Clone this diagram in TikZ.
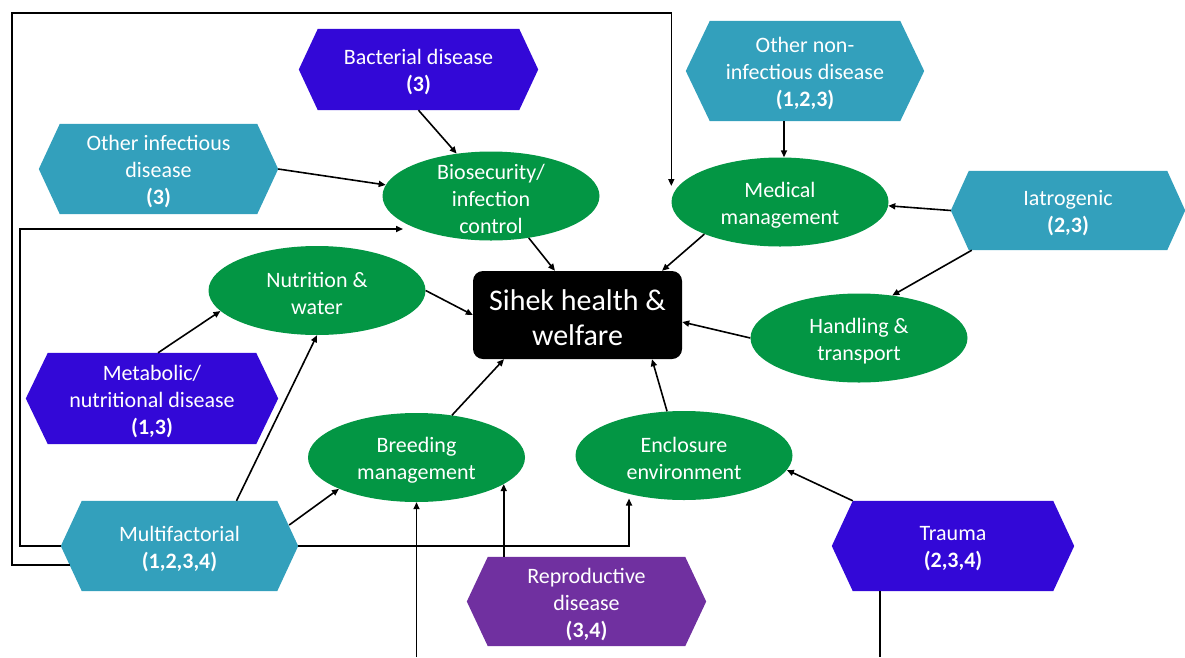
\documentclass[tikz,border=0pt]{standalone}
\usepackage{fontspec}
\setmainfont{Carlito}
\usetikzlibrary{shapes.geometric,arrows.meta,backgrounds}
\definecolor{hexteal}{RGB}{51,160,188}
\definecolor{hexblue}{RGB}{51,8,215}
\definecolor{hexpurple}{RGB}{112,48,160}
\definecolor{ovalgreen}{RGB}{3,150,68}
\begin{document}
\begin{tikzpicture}[x=1pt,y=-1pt,
  hexnode/.style={rectangle, inner sep=0pt},
  oval/.style={ellipse, fill=ovalgreen, inner sep=0pt,
    minimum width=217pt, minimum height=89pt},
  bodytext/.style={text=white, align=center, inner sep=0pt, yshift=-3pt,
    font=\fontsize{22}{27}\selectfont},
  hub/.style={rectangle, rounded corners=10pt, fill=black, text=white,
    align=center, inner sep=0pt, minimum width=209pt, minimum height=88pt,
    font=\fontsize{30}{35}\selectfont},
  link/.style={line width=1.6pt, draw=black},
  arr/.style={link, -{Triangle[length=7pt,width=6pt]}}
]
\useasboundingbox (0,0) rectangle (1185,657);

% hazard hexagons (fills are added on the background layer below)
\node[hexnode, minimum width=239pt, minimum height=81pt] (bact) at (418.5,69.5) {};
\node[hexnode, minimum width=239pt, minimum height=90pt] (oinf) at (158.5,169) {};
\node[hexnode, minimum width=238pt, minimum height=100pt] (onon) at (805,71) {};
\node[hexnode, minimum width=234pt, minimum height=79pt] (iatro) at (1068,210.5) {};
\node[hexnode, minimum width=252pt, minimum height=91pt] (meta) at (152,398.5) {};
\node[hexnode, minimum width=237pt, minimum height=90pt] (multi) at (179.5,546) {};
\node[hexnode, minimum width=239pt, minimum height=89pt] (repro) at (586.5,601.5) {};
\node[hexnode, minimum width=242pt, minimum height=90pt] (trauma) at (953,546) {};

\begin{scope}[on background layer]
  \foreach \n/\c/\i in {bact/hexblue/19pt, oinf/hexteal/21pt, onon/hexteal/24pt,
      iatro/hexteal/18pt, meta/hexblue/22pt, multi/hexteal/21pt,
      repro/hexpurple/21pt, trauma/hexblue/21pt}
    \fill[\c] ([xshift=\i]\n.north west) -- ([xshift=-\i]\n.north east)
      -- (\n.east) -- ([xshift=-\i]\n.south east)
      -- ([xshift=\i]\n.south west) -- (\n.west) -- cycle;
\end{scope}

\node[bodytext] (bact-t) at (bact.center) {Bacterial disease\\\textbf{(3)}};
\node[bodytext] (oinf-t) at (oinf.center) {Other infectious\\disease\\\textbf{(3)}};
\node[bodytext] (onon-t) at (onon.center) {Other non-\\infectious disease\\\textbf{(1,2,3)}};
\node[bodytext] (iatro-t) at (iatro.center) {Iatrogenic\\\textbf{(2,3)}};
\node[bodytext] (meta-t) at (meta.center) {Metabolic/\\nutritional disease\\\textbf{(1,3)}};
\node[bodytext] (multi-t) at (multi.center) {Multifactorial\\\textbf{(1,2,3,4)}};
\node[bodytext] (repro-t) at (repro.center) {Reproductive\\disease\\\textbf{(3,4)}};
\node[bodytext] (trauma-t) at (trauma.center) {Trauma\\\textbf{(2,3,4)}};

% management areas
\node[oval] (bio) at (491,196) {};
\node[bodytext] (bio-t) at (bio.center) {Biosecurity/\\infection\\control};
\node[oval] (med) at (780,202) {};
\node[bodytext] (med-t) at (med.center) {Medical\\management};
\node[oval] (nut) at (317,290.5) {};
\node[bodytext] (nut-t) at (nut.center) {Nutrition \&\\water};
\node[oval] (hand) at (859,338) {};
\node[bodytext] (hand-t) at (hand.center) {Handling \&\\transport};
\node[oval] (breed) at (416.5,457.5) {};
\node[bodytext] (breed-t) at (breed.center) {Breeding\\management};
\node[oval] (encl) at (684,455.5) {};
\node[bodytext] (encl-t) at (encl.center) {Enclosure\\environment};

% central outcome
\node[hub] (hub) at (577.5,315) {};
\node[bodytext, font=\fontsize{30}{35}\selectfont] (hub-t) at (hub.center)
  {Sihek health \&\\welfare};

% free ends at the lower edge
\coordinate (bb) at (416.5,657);
\coordinate (tb) at (880,657);

% hazards to management areas
\draw[arr] (bact.south) -- (bio.129);
\draw[arr] (oinf.east) -- (bio.174);
\draw[arr] ([xshift=-21pt]onon.south) -- ([xshift=-21pt]onon.south |- med.north);
\draw[arr] (iatro.west) -- (med.-2);
\draw[arr] ([xshift=21pt]iatro.south west) -- (hand.52);
\draw[arr] ([xshift=6pt]meta.north) -- (nut.192);
\draw[arr] ([xshift=57pt]multi.north) -- (nut.south);
\draw[arr] ([shift={(-9pt,21pt)}]multi.east) -- (breed.202);
\draw[arr] (multi.east) -| ([shift={(-55pt,-43pt)}]encl.center);
\draw[arr] (multi.west) -| (20,229) -- ([shift={(-88pt,-33pt)}]bio.center);
\draw[arr] ([shift={(9pt,-19pt)}]multi.west) -| (12,13) -| ([yshift=16pt]med.west);
\draw[arr] (bb) -- (breed.south);
\draw[arr] (breed.-17 |- repro.north) -- (breed.-17);
\draw[arr] ([xshift=21pt]trauma.north west) -- (encl.-8);
\draw[link] (tb |- trauma.south) -- (tb);

% management areas to the outcome
\draw[arr] (bio.-48) -- ([xshift=-22.5pt]hub.north);
\draw[arr] (med.203) -- ([xshift=84.5pt]hub.north);
\draw[arr] (nut.east) -- (hub.west);
\draw[arr] (hand.west) -- ([yshift=-7pt]hub.east);
\draw[arr] (breed.50) -- ([xshift=-73.5pt]hub.south);
\draw[arr] (encl.111) -- ([xshift=74.5pt]hub.south);
\end{tikzpicture}
\end{document}
